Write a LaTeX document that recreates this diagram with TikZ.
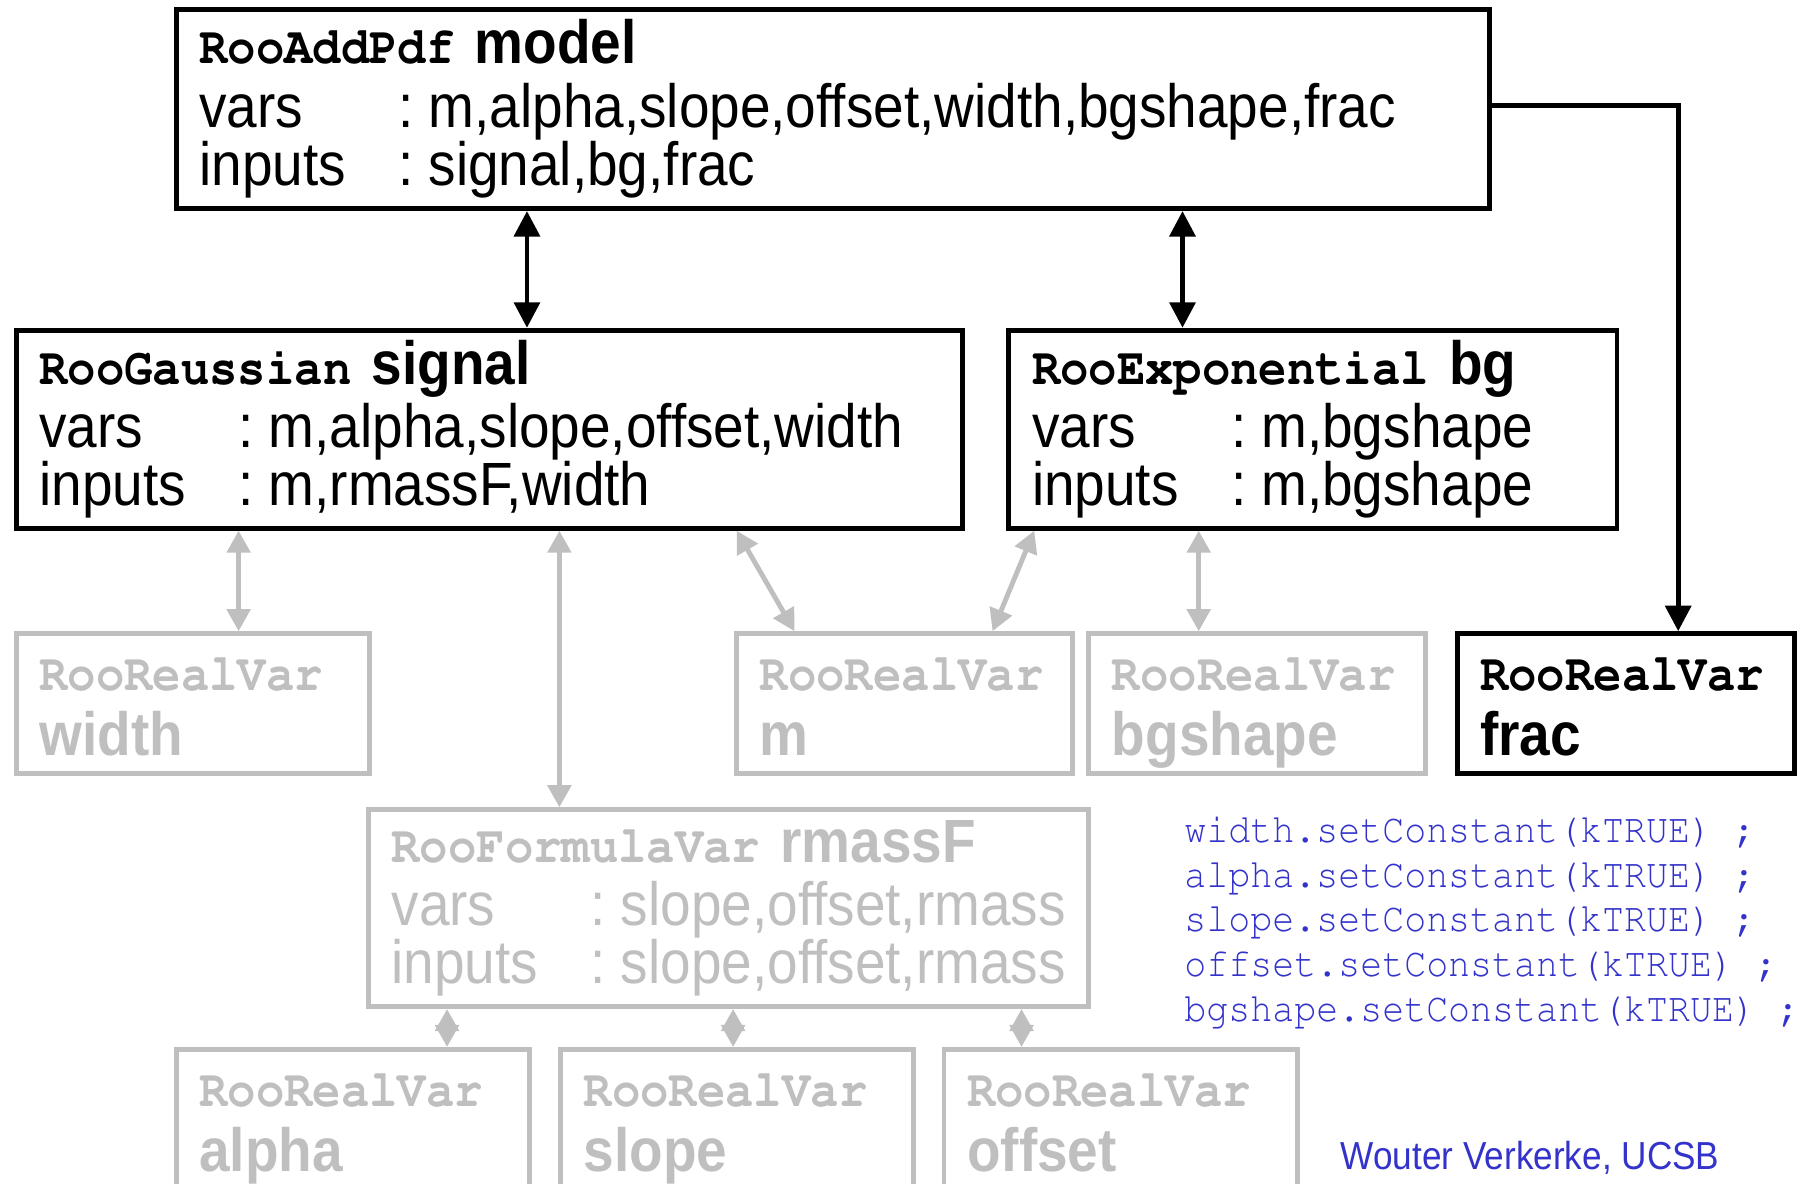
\documentclass[tikz,border=0pt]{standalone}
\usepackage{fontspec}
\usepackage{graphicx}
\setmainfont{Liberation Sans}[FakeStretch=0.9]
\setmonofont{Liberation Mono}[FakeStretch=0.9]
\usetikzlibrary{arrows.meta}
\definecolor{fadegray}{RGB}{191,191,191}
\definecolor{codeblue}{RGB}{51,51,204}
% Courier (urw) for class names and code, narrowed a little
\newcommand{\courier}{\fontencoding{T1}\fontfamily{pcr}\selectfont}
\newcommand{\narrow}[1]{\scalebox{0.9}[1]{#1}}
% class name in bold typewriter, followed by the object name
\newcommand{\roocls}[2]{\mbox{\narrow{\fontsize{12.9pt}{14pt}\courier\bfseries #1} \textbf{#2}}}
\newcommand{\argrow}[2]{\mbox{\makebox[1.72cm][l]{#1}\makebox[0.26cm][l]{:}#2}}
\newcommand{\leaf}[1]{\rule{0pt}{0.33cm}\roocls{RooRealVar}{}\\[0.06cm]\smash{\textbf{#1}}}
\tikzset{
  pdfbox/.style 2 args={draw, line width=1.2pt, anchor=north west, align=left,
    inner xsep=0.2cm, inner ysep=0pt, text width=#1, minimum height=#2,
    font=\fontsize{15pt}{0.5cm}\selectfont},
  ghostbox/.style 2 args={pdfbox={#1}{#2}, draw=fadegray, text=fadegray},
  link/.style={{Triangle[length=0.22cm,width=0.22cm]}-{Triangle[length=0.22cm,width=0.22cm]},
    line width=1.2pt},
  ghostlink/.style={{Triangle[length=0.19cm,width=0.2cm]}-{Triangle[length=0.19cm,width=0.2cm]},
    line width=1.2pt, draw=fadegray},
  owns/.style={-{Triangle[length=0.22cm,width=0.22cm]}, line width=1.2pt}
}
\begin{document}
\begin{tikzpicture}
  \path[use as bounding box, clip] (0,0) rectangle (15.68,-10.22);

  % pdf objects
  \node[pdfbox={10.94cm}{1.72cm}] (model) at (1.50,-0.06)
    {\roocls{RooAddPdf}{model}\\[0.05cm]
     \argrow{vars}{m,alpha,slope,offset,width,bgshape,frac}\\
     \argrow{inputs}{signal,bg,frac}};
  \node[pdfbox={7.77cm}{1.71cm}] (signal) at (0.12,-2.83)
    {\roocls{RooGaussian}{signal}\\[0.05cm]
     \argrow{vars}{m,alpha,slope,offset,width}\\
     \argrow{inputs}{m,rmassF,width}};
  \node[pdfbox={4.85cm}{1.71cm}] (bg) at (8.69,-2.83)
    {\roocls{RooExponential}{bg}\\[0.05cm]
     \argrow{vars}{m,bgshape}\\
     \argrow{inputs}{m,bgshape}};
  \node[pdfbox={2.51cm}{1.21cm}] (frac) at (12.56,-5.45) {\leaf{frac}};

  % constant leaves
  \node[ghostbox={2.65cm}{1.21cm}] (width) at (0.12,-5.45) {\leaf{width}};
  \node[ghostbox={2.50cm}{1.21cm}] (m) at (6.34,-5.45) {\leaf{m}};
  \node[ghostbox={2.51cm}{1.21cm}] (bgshape) at (9.38,-5.45) {\leaf{bgshape}};
  \node[ghostbox={5.82cm}{1.70cm}] (rmassF) at (3.16,-6.97)
    {\roocls{RooFormulaVar}{rmassF}\\[0.05cm]
     \argrow{vars}{slope,offset,rmass}\\
     \argrow{inputs}{slope,offset,rmass}};
  \node[ghostbox={2.65cm}{1.21cm}] (alpha) at (1.50,-9.04) {\leaf{alpha}};
  \node[ghostbox={2.65cm}{1.21cm}] (slope) at (4.82,-9.04) {\leaf{slope}};
  \node[ghostbox={2.65cm}{1.21cm}] (offset) at (8.13,-9.04) {\leaf{offset}};

  \node[anchor=north west, inner sep=0pt, text=codeblue,
    font=\fontsize{10pt}{0.385cm}\courier] (setconst) at (10.22,-7.0)
    {\narrow{\begin{tabular}{@{}l@{}}
       width.setConstant(kTRUE) ;\\
       alpha.setConstant(kTRUE) ;\\
       slope.setConstant(kTRUE) ;\\
       offset.setConstant(kTRUE) ;\\
       bgshape.setConstant(kTRUE) ;
     \end{tabular}}};
  \node[anchor=west, inner sep=0pt, text=codeblue, font=\fontsize{9.6pt}{11pt}\selectfont]
    (credit) at (11.57,-10.0) {Wouter Verkerke, UCSB};

  % links
  \draw[link] ([xshift=3.05cm]model.south west) -- ([xshift=3.05cm]model.south west |- signal.north);
  \draw[link] ([xshift=8.71cm]model.south west) -- ([xshift=8.71cm]model.south west |- bg.north);
  \draw[owns] ([yshift=0.03cm]model.east) -| ([xshift=1.93cm]frac.north west);

  \draw[ghostlink] ([xshift=1.94cm]width.north west) -- ([xshift=1.94cm]width.north west |- signal.south);
  \draw[ghostlink] ([xshift=1.67cm]rmassF.north west) -- ([xshift=1.67cm]rmassF.north west |- signal.south);
  \draw[ghostlink] ([xshift=6.24cm]signal.south west) -- ([xshift=0.52cm]m.north west);
  \draw[ghostlink] ([xshift=0.24cm]bg.south west) -- ([xshift=2.23cm]m.north west);
  \draw[ghostlink] ([xshift=0.97cm]bgshape.north west) -- ([xshift=0.97cm]bgshape.north west |- bg.south);
  \draw[ghostlink] ([xshift=2.36cm]alpha.north west) -- ([xshift=2.36cm]alpha.north west |- rmassF.south);
  \draw[ghostlink] ([xshift=1.51cm]slope.north west) -- ([xshift=1.51cm]slope.north west |- rmassF.south);
  \draw[ghostlink] ([xshift=0.69cm]offset.north west) -- ([xshift=0.69cm]offset.north west |- rmassF.south);
\end{tikzpicture}
\end{document}
